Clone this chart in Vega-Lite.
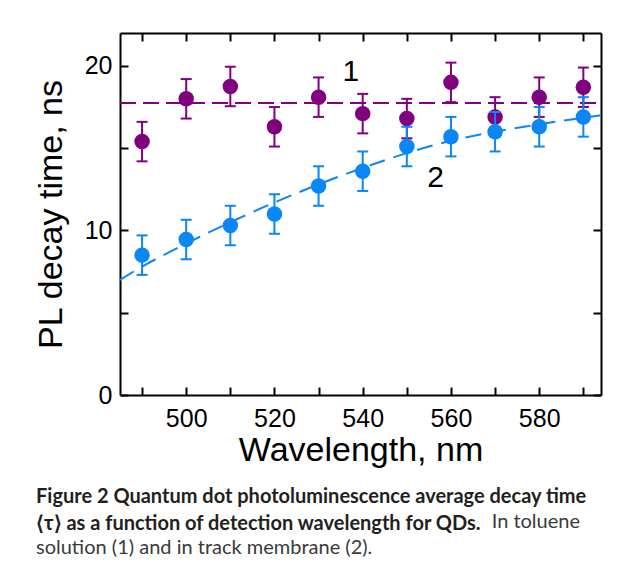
{
 "$schema": "https://vega.github.io/schema/vega-lite/v6.json",
 "width": 481,
 "height": 362,
 "autosize": "none",
 "padding": {"left": 120, "top": 33, "right": 30, "bottom": 173},
 "background": "white",
 "config": {
  "view": {"stroke": null},
  "axis": {"domainColor": "black", "domainWidth": 2, "tickColor": "black", "tickWidth": 2, "grid": false,
   "labelFont": "Liberation Sans", "labelFontSize": 25, "labelColor": "black",
   "titleFont": "Liberation Sans", "titleFontSize": 34, "titleFontWeight": "normal", "titleColor": "black"}
 },
 "title": {
  "text": ["Figure 2 Quantum dot photoluminescence average decay time", "⟨τ⟩ as a function of detection wavelength for QDs."],
  "subtitle": ["\u200d\u00a0\u00a0\u00a0\u00a0\u00a0\u00a0\u00a0\u00a0\u00a0\u00a0\u00a0\u00a0\u00a0\u00a0\u00a0\u00a0\u00a0\u00a0\u00a0\u00a0\u00a0\u00a0\u00a0\u00a0\u00a0\u00a0\u00a0\u00a0\u00a0\u00a0\u00a0\u00a0\u00a0\u00a0\u00a0\u00a0\u00a0\u00a0\u00a0\u00a0\u00a0\u00a0\u00a0\u00a0\u00a0\u00a0\u00a0\u00a0\u00a0\u00a0\u00a0\u00a0\u00a0\u00a0\u00a0\u00a0\u00a0\u00a0\u00a0\u00a0\u00a0\u00a0\u00a0\u00a0\u00a0\u00a0\u00a0\u00a0\u00a0\u00a0\u00a0\u00a0\u00a0\u00a0\u00a0\u00a0\u00a0\u00a0\u00a0\u00a0\u00a0\u00a0\u00a0\u00a0\u00a0\u00a0\u00a0\u00a0\u00a0In toluene", "solution (1) and in track membrane (2)."],
  "orient": "bottom", "anchor": "start", "frame": "group", "dx": -84, "offset": 20,
  "font": "Lato", "fontSize": 20, "fontWeight": "bold", "lineHeight": 26.5, "color": "#231f20",
  "subtitleFont": "Lato", "subtitleFontSize": 20, "subtitleFontWeight": "normal", "subtitleColor": "#3a3a3a",
  "subtitleLineHeight": 26.5, "subtitlePadding": -22
 },
 "datasets": {
  "pts": [
   {"series": "1", "wl": 490, "tau": 15.4, "lo": 14.2, "hi": 16.6},
   {"series": "1", "wl": 500, "tau": 18.0, "lo": 16.8, "hi": 19.2},
   {"series": "1", "wl": 510, "tau": 18.75, "lo": 17.55, "hi": 19.95},
   {"series": "1", "wl": 520, "tau": 16.3, "lo": 15.1, "hi": 17.5},
   {"series": "1", "wl": 530, "tau": 18.1, "lo": 16.9, "hi": 19.3},
   {"series": "1", "wl": 540, "tau": 17.1, "lo": 15.9, "hi": 18.3},
   {"series": "1", "wl": 550, "tau": 16.8, "lo": 15.6, "hi": 18.0},
   {"series": "1", "wl": 560, "tau": 19.0, "lo": 17.8, "hi": 20.2},
   {"series": "1", "wl": 570, "tau": 16.9, "lo": 15.7, "hi": 18.1},
   {"series": "1", "wl": 580, "tau": 18.1, "lo": 16.9, "hi": 19.3},
   {"series": "1", "wl": 590, "tau": 18.7, "lo": 17.5, "hi": 19.9},
   {"series": "2", "wl": 490, "tau": 8.5, "lo": 7.3, "hi": 9.7},
   {"series": "2", "wl": 500, "tau": 9.45, "lo": 8.25, "hi": 10.65},
   {"series": "2", "wl": 510, "tau": 10.3, "lo": 9.1, "hi": 11.5},
   {"series": "2", "wl": 520, "tau": 11.0, "lo": 9.8, "hi": 12.2},
   {"series": "2", "wl": 530, "tau": 12.7, "lo": 11.5, "hi": 13.9},
   {"series": "2", "wl": 540, "tau": 13.6, "lo": 12.4, "hi": 14.8},
   {"series": "2", "wl": 550, "tau": 15.1, "lo": 13.9, "hi": 16.3},
   {"series": "2", "wl": 560, "tau": 15.7, "lo": 14.5, "hi": 16.9},
   {"series": "2", "wl": 570, "tau": 16.0, "lo": 14.8, "hi": 17.2},
   {"series": "2", "wl": 580, "tau": 16.3, "lo": 15.1, "hi": 17.5},
   {"series": "2", "wl": 590, "tau": 16.9, "lo": 15.7, "hi": 18.1}
  ],
  "fit1": [
   {"wl": 485, "tau": 17.75},
   {"wl": 594, "tau": 17.75}
  ],
  "fit2": [
   {"wl": 485, "tau": 7.0},
   {"wl": 490, "tau": 7.8},
   {"wl": 500, "tau": 9.2},
   {"wl": 510, "tau": 10.5},
   {"wl": 520, "tau": 11.7},
   {"wl": 530, "tau": 12.8},
   {"wl": 540, "tau": 13.8},
   {"wl": 550, "tau": 14.7},
   {"wl": 560, "tau": 15.45},
   {"wl": 570, "tau": 16.0},
   {"wl": 580, "tau": 16.45},
   {"wl": 590, "tau": 16.85},
   {"wl": 594, "tau": 17.0}
  ],
  "labels": [
   {"label": "1", "wl": 537.3, "tau": 19.6},
   {"label": "2", "wl": 556.5, "tau": 13.2}
  ]
 },
 "layer": [
  {
   "data": {"name": "fit1"},
   "mark": {"type": "line", "color": "#800080", "strokeWidth": 2, "strokeDash": [16, 7]},
   "encoding": {
    "x": {"field": "wl", "type": "quantitative", "scale": {"domain": [485, 594], "nice": false, "zero": false},
     "axis": {"orient": "top", "values": [490, 500, 510, 520, 530, 540, 550, 560, 570, 580, 590], "labels": false, "tickSize": -8, "title": null}},
    "y": {"field": "tau", "type": "quantitative", "scale": {"domain": [0, 22], "nice": false},
     "axis": {"orient": "right", "values": [0, 5, 10, 15, 20], "labels": false, "tickSize": -8, "title": null}}
   }
  },
  {
   "data": {"name": "fit2"},
   "mark": {"type": "line", "color": "#0a86f5", "strokeWidth": 2, "strokeDash": [16, 9], "interpolate": "monotone"},
   "encoding": {
    "x": {"field": "wl", "type": "quantitative",
     "axis": {"orient": "bottom", "values": [490, 500, 510, 520, 530, 540, 550, 560, 570, 580, 590], "labelExpr": "datum.value % 20 === 0 ? datum.label : ''", "tickSize": -8, "labelPadding": 19, "title": "Wavelength, nm", "titlePadding": 2}},
    "y": {"field": "tau", "type": "quantitative",
     "axis": {"orient": "left", "values": [0, 5, 10, 15, 20], "labelExpr": "datum.value % 10 === 0 ? datum.label : ''", "tickSize": -8, "labelPadding": 16, "title": "PL decay time, ns", "titlePadding": 16}}
   }
  },
  {
   "data": {"name": "pts"},
   "transform": [{"filter": "datum.series === '1'"}],
   "encoding": {
    "x": {"field": "wl", "type": "quantitative", "axis": null}
   },
   "layer": [
    {"mark": {"type": "rule", "color": "#800080", "strokeWidth": 2},
     "encoding": {"y": {"field": "lo", "type": "quantitative", "axis": null}, "y2": {"field": "hi"}}},
    {"mark": {"type": "tick", "orient": "horizontal", "color": "#800080", "size": 11, "thickness": 2, "opacity": 1},
     "encoding": {"y": {"field": "lo", "type": "quantitative", "axis": null}}},
    {"mark": {"type": "tick", "orient": "horizontal", "color": "#800080", "size": 11, "thickness": 2, "opacity": 1},
     "encoding": {"y": {"field": "hi", "type": "quantitative", "axis": null}}},
    {"mark": {"type": "circle", "color": "#800080", "size": 240, "opacity": 1},
     "encoding": {"y": {"field": "tau", "type": "quantitative", "axis": null}}}
   ]
  },
  {
   "data": {"name": "pts"},
   "transform": [{"filter": "datum.series === '2'"}],
   "encoding": {
    "x": {"field": "wl", "type": "quantitative", "axis": null}
   },
   "layer": [
    {"mark": {"type": "rule", "color": "#0a86f5", "strokeWidth": 2},
     "encoding": {"y": {"field": "lo", "type": "quantitative", "axis": null}, "y2": {"field": "hi"}}},
    {"mark": {"type": "tick", "orient": "horizontal", "color": "#0a86f5", "size": 11, "thickness": 2, "opacity": 1},
     "encoding": {"y": {"field": "lo", "type": "quantitative", "axis": null}}},
    {"mark": {"type": "tick", "orient": "horizontal", "color": "#0a86f5", "size": 11, "thickness": 2, "opacity": 1},
     "encoding": {"y": {"field": "hi", "type": "quantitative", "axis": null}}},
    {"mark": {"type": "circle", "color": "#0a86f5", "size": 240, "opacity": 1},
     "encoding": {"y": {"field": "tau", "type": "quantitative", "axis": null}}}
   ]
  },
  {
   "data": {"name": "labels"},
   "mark": {"type": "text", "font": "Liberation Sans", "fontSize": 30, "color": "black", "align": "center", "baseline": "middle"},
   "encoding": {
    "x": {"field": "wl", "type": "quantitative", "axis": null},
    "y": {"field": "tau", "type": "quantitative", "axis": null},
    "text": {"field": "label"}
   }
  }
 ],
 "resolve": {"axis": {"x": "independent", "y": "independent"}}
}
